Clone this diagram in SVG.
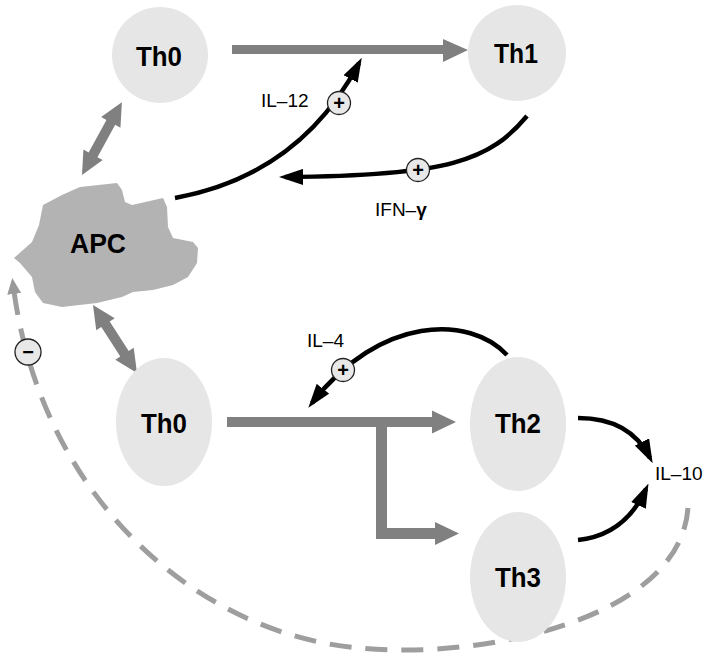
<svg xmlns="http://www.w3.org/2000/svg" width="707" height="659" viewBox="0 0 707 659">
<style>
.node{fill:#e6e6e6}
.lbl{font-family:"Liberation Sans",Arial,sans-serif;font-weight:bold;font-size:27px;fill:#000;text-anchor:middle}
.small{font-family:"Liberation Sans",Arial,sans-serif;font-size:19px;fill:#000}
.garrow{fill:#808080}
.blk{fill:none;stroke:#000;stroke-width:4.5;marker-end:url(#ah)}
.sign{fill:#e8e8e8;stroke:#222;stroke-width:1.3}
.signt{font-family:"Liberation Sans",Arial,sans-serif;font-weight:bold;font-size:20px;text-anchor:middle;fill:#000}
</style>
<defs>
<marker id="ah" markerUnits="userSpaceOnUse" markerWidth="24" markerHeight="16" viewBox="0 0 24 16" refX="18" refY="8" orient="auto">
<path d="M0,0 L24,8 L0,16 z" fill="#000"/>
</marker>
<marker id="gah" markerUnits="userSpaceOnUse" markerWidth="16" markerHeight="14" viewBox="0 0 16 14" refX="10" refY="7" orient="auto">
<path d="M0,0 L16,7 L0,14 z" fill="#999"/>
</marker>
</defs>
<rect width="707" height="659" fill="#fff"/>

<g id="connectors">
<path d="M688,508 C680,620 480,660 360,648 C200,635 40,500 13,284" fill="none" stroke="#9e9e9e" stroke-width="5" stroke-dasharray="22,14" marker-end="url(#gah)"/>
<polygon class="garrow" points="232,45 443,45 443,39 468,50 443,62 443,54 232,54"/>
<polygon class="garrow" transform="translate(82,175) rotate(-61.3)" points="0,0 23,-11 23,-5 60,-5 60,-11 83,0 60,11 60,5 23,5 23,11"/>
<polygon class="garrow" transform="translate(93,305) rotate(57.1)" points="0,0 23,-11 23,-5 58,-5 58,-11 81,0 58,11 58,5 23,5 23,11"/>
<polygon class="garrow" points="227,417 432,417 432,410.5 456,422 432,433.5 432,427 227,427"/>
<path d="M381.5,427 V533.5 H436" fill="none" stroke="#808080" stroke-width="11"/>
<polygon class="garrow" points="435,522 459,533.5 435,545"/>
<path class="blk" d="M175,198 Q300,175 359,63"/>
<path class="blk" d="M527,116 C490,160 450,176 285,177"/>
<path class="blk" d="M507,355 C470,315 380,315 312,403"/>
<path class="blk" d="M578,418 Q630,418 650,458"/>
<path class="blk" d="M578,540 Q625,535 646,489"/>
<circle class="sign" cx="339" cy="103" r="11.5"/>
<text class="signt" x="339" y="110">+</text>
<circle class="sign" cx="418" cy="170" r="11.5"/>
<text class="signt" x="418" y="177">+</text>
<circle class="sign" cx="343" cy="370" r="11.5"/>
<text class="signt" x="343" y="377">+</text>
<circle class="sign" cx="28" cy="352" r="13"/>
<text class="signt" x="28" y="359" font-size="24">−</text>
<text class="small" x="261" y="107">IL–12</text>
<text class="small" x="375" y="216">IFN–<tspan font-weight="bold">γ</tspan></text>
<text class="small" x="307" y="347">IL–4</text>
<text class="small" x="655" y="480">IL–10</text>
</g>

<g id="th0-top">
<ellipse class="node" cx="160" cy="55" rx="48" ry="48"/>
<text class="lbl" x="159" y="66" textLength="46" lengthAdjust="spacingAndGlyphs">Th0</text>
</g>
<g id="th1">
<ellipse class="node" cx="517" cy="53" rx="49" ry="48"/>
<text class="lbl" x="516" y="63" textLength="44" lengthAdjust="spacingAndGlyphs">Th1</text>
</g>
<g id="apc">
<polygon fill="#b3b3b3" points="14,258 32,242 39,225 43,205 62,195 80,187 117,183 122,190 125,202 132,205 163,198 167,207 168,227 173,238 193,242 198,248 197,263 188,277 173,285 153,290 133,292 122,297 97,303 62,307 43,303 35,292 32,277 20,263"/>
<text class="lbl" x="98" y="253" font-size="25" textLength="56" lengthAdjust="spacingAndGlyphs">APC</text>
</g>
<g id="th0-bottom">
<ellipse class="node" cx="164" cy="422" rx="48" ry="64"/>
<text class="lbl" x="164" y="433" textLength="46" lengthAdjust="spacingAndGlyphs">Th0</text>
</g>
<g id="th2">
<ellipse class="node" cx="518" cy="424" rx="48" ry="67"/>
<text class="lbl" x="518" y="433" textLength="46" lengthAdjust="spacingAndGlyphs">Th2</text>
</g>
<g id="th3">
<ellipse class="node" cx="518" cy="577" rx="48" ry="65"/>
<text class="lbl" x="518" y="587" textLength="46" lengthAdjust="spacingAndGlyphs">Th3</text>
</g>
</svg>
